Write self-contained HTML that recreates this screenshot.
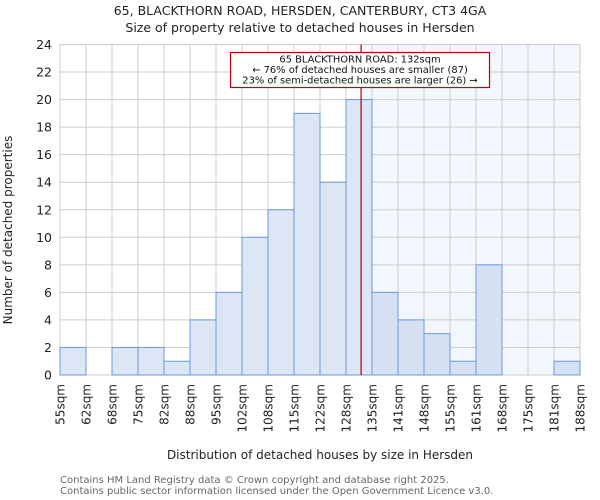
<!DOCTYPE html>
<html><head><meta charset="utf-8"><style>
body{margin:0;background:#fff;}
svg{display:block;font-family:"DejaVu Sans","Liberation Sans",sans-serif;}
</style></head><body>
<svg id="c" width="600" height="500" viewBox="0 0 600 500">
<text x="300" y="15" text-anchor="middle" font-size="12.5" fill="#222">65, BLACKTHORN ROAD, HERSDEN, CANTERBURY, CT3 4GA</text>
<text x="300" y="32" text-anchor="middle" font-size="12.5" fill="#222">Size of property relative to detached houses in Hersden</text>
<text transform="translate(12,230) rotate(-90)" text-anchor="middle" font-size="12" fill="#222">Number of detached properties</text>
<text x="320" y="459" text-anchor="middle" font-size="12" fill="#222">Distribution of detached houses by size in Hersden</text>
<text x="60" y="483" font-size="10" fill="#666">Contains HM Land Registry data © Crown copyright and database right 2025.</text>
<text x="60" y="494" font-size="10" fill="#666">Contains public sector information licensed under the Open Government Licence v3.0.</text>
<g id="plot"></g>
</svg>
<script>
const labels=["55sqm","62sqm","68sqm","75sqm","82sqm","88sqm","95sqm","102sqm","108sqm","115sqm","122sqm","128sqm","135sqm","141sqm","148sqm","155sqm","161sqm","168sqm","175sqm","181sqm","188sqm"];
const counts=[2,0,2,2,1,4,6,10,12,19,14,20,6,4,3,1,8,0,0,1];
const yTicks=[0,2,4,6,8,10,12,14,16,18,20,22,24];
const propertyBin=11.58;
const ns="http://www.w3.org/2000/svg";
const g=document.getElementById('plot');
const X0=60,X1=580,Y0=375,Y1=44.5,YMAX=24;
const bw=(X1-X0)/counts.length;
const xs=i=>X0+i*bw;
const ys=v=>Y0-(v/YMAX)*(Y0-Y1);
function mk(t,a){const e=document.createElementNS(ns,t);for(const k in a)e.setAttribute(k,a[k]);g.appendChild(e);return e;}
const lx=xs(propertyBin);
let e=mk('rect',{x:lx,y:Y1,width:X1-lx,height:Y0-Y1,fill:'#f2f6fd'});


yTicks.forEach(v=>{
 let l=mk('line',{x1:X0,x2:X1,y1:ys(v),y2:ys(v),stroke:'#ccc','stroke-width':1});
 
 
 let t=mk('text',{x:X0-8,y:ys(v)+4.5,'text-anchor':'end','font-size':12.5,fill:'#222'});
 t.textContent=v;
 
 
});
labels.forEach((s,i)=>{
 let l=mk('line',{x1:xs(i),x2:xs(i),y1:Y1,y2:Y0,stroke:'#ccc','stroke-width':1});
 
 
 let t=mk('text',{transform:`translate(${xs(i)+4.5},384) rotate(-90)`,'text-anchor':'end','font-size':12,fill:'#222'});
 t.textContent=s;
 
 
});
counts.forEach((c,i)=>{
 if(!c)return;
 let r=mk('rect',{x:xs(i),y:ys(c),width:bw,height:Y0-ys(c),fill:i>=12?'#d5e1f3':'#dce6f4',stroke:'#6a9ad8','stroke-width':1});
 
 
});
e=mk('line',{x1:lx,x2:lx,y1:Y1,y2:Y0,stroke:'#b00000','stroke-width':1.2});


e=mk('rect',{x:230.5,y:52.5,width:259,height:35,fill:'#fff',stroke:'#c00000','stroke-width':1.2});


["65 BLACKTHORN ROAD: 132sqm","← 76% of detached houses are smaller (87)","23% of semi-detached houses are larger (26) →"].forEach((s,i)=>{
 let t=mk('text',{x:360,y:62.5+i*10.5,'text-anchor':'middle','font-size':9.9,fill:'#111'});
 t.textContent=s;
 
 
});
</script>
</body></html>
